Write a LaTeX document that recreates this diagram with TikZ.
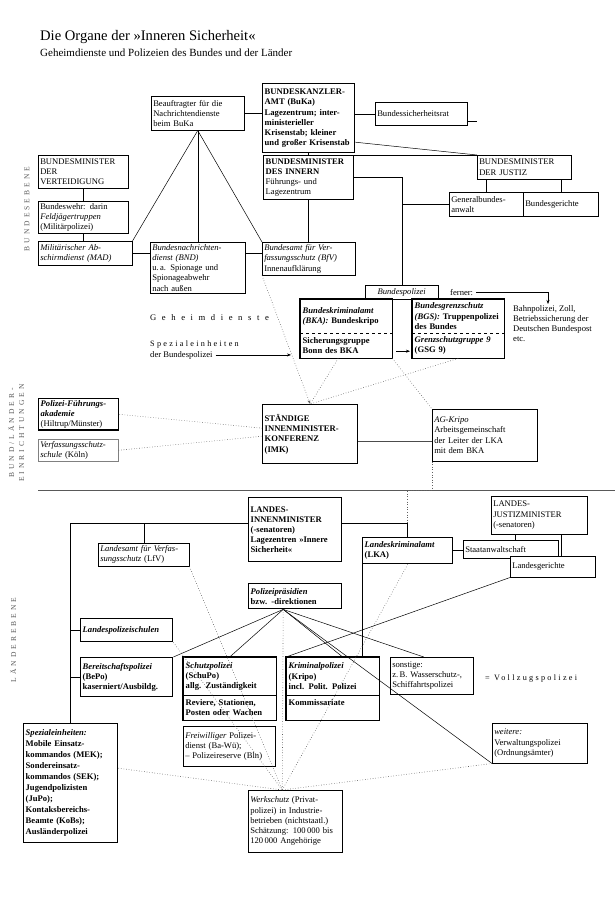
\documentclass[tikz,border=0pt]{standalone}
\usepackage{fontspec}
\setmainfont{Liberation Serif}
\newfontfamily\spacedfont[LetterSpace=28]{Liberation Serif}
\newfontfamily\sidefont[LetterSpace=40]{Liberation Serif}
\newfontfamily\widefont[LetterSpace=65]{Liberation Serif}
\usetikzlibrary{arrows.meta}

\tikzset{
  box/.style={draw, line width=.5pt, anchor=north west, align=left,
    inner xsep=2pt, inner ysep=1.5pt, font=\fontsize{8.6}{10.2}\selectfont},
  heavybox/.style={box, line width=1.4pt, font=\fontsize{8.6}{10.2}\selectfont\bfseries},
  part/.style={box, draw=none},
  heavypart/.style={heavybox, draw=none},
  dims/.style 2 args={text width=#1pt-4pt, minimum width=#1pt, minimum height=#2pt},
  link/.style={line width=.5pt},
  hint/.style={line width=.6pt, dotted, gray!75!black},
  lbl/.style={inner sep=0pt, align=left, font=\fontsize{8.6}{10.2}\selectfont},
  side/.style={inner sep=0pt, rotate=90, align=center, text=gray!70!black,
    font=\sidefont\fontsize{7.5}{10}\selectfont},
  arrowed/.style={-{Stealth[length=4pt, width=3pt]}}
}

\begin{document}
\begin{tikzpicture}[x=1pt, y=-1pt]
\useasboundingbox (0,0) rectangle (615,900);

% title
\node[anchor=base west, inner sep=0pt, font=\fontsize{14.6}{17}\selectfont] (title) at (40,40) {Die Organe der »Inneren Sicherheit«};
\node[anchor=base west, inner sep=0pt, font=\fontsize{11}{13}\selectfont] (subtitle) at (40,56) {Geheimdienste und Polizeien des Bundes und der Länder};

% side labels
\node[side] (lblbund) at (27,209) {BUNDESEBENE};
\node[side] (lblbl) at (16,433) {BUND/LÄNDER-\\EINRICHTUNGEN};
\node[side] (lbllaender) at (13,640) {LÄNDEREBENE};

% Bundesebene
\node[box, dims={93}{34}] (beauf) at (151,96) {Beauftragter für die\\Nachrichtendienste\\beim BuKa};
\node[heavybox, dims={92}{69}] (buka) at (262,83) {BUNDESKANZLER-\\AMT (BuKa)\\Lagezentrum; inter-\\ministerieller\\Krisenstab; kleiner\\und großer Krisenstab};
\node[box, dims={92}{23}] (bsr) at (375,102) {Bundessicherheitsrat};
\node[heavybox, dims={90}{44}] (bmi) at (263,155) {BUNDESMINISTER\\DES INNERN\\\mdseries Führungs- und\\Lagezentrum};
\node[box, dims={94}{24}] (bmj) at (477,155) {BUNDESMINISTER\\DER JUSTIZ};
\node[box, dims={74}{24}] (gba) at (449,192) {Generalbundes-\\anwalt};
\node[box, dims={75}{24}] (bger) at (523,192) {Bundesgerichte};
\node[box, dims={90}{33}] (bmvg) at (38,155) {BUNDESMINISTER\\DER\\VERTEIDIGUNG};
\node[box, dims={90}{32}] (bw) at (38,201) {Bundeswehr: darin\\\textit{Feldjägertruppen}\\(Militärpolizei)};
\node[box, dims={94}{24}] (mad) at (38,241) {\textit{Militärischer Ab-}\\\textit{schirmdienst (MAD)}};
\node[box, dims={95}{51}] (bnd) at (150,242) {\textit{Bundesnachrichten-}\\\textit{dienst (BND)}\\u.\,a. Spionage und\\Spionageabwehr\\nach außen};
\node[box, dims={93}{33}] (bfv) at (262,242) {\textit{Bundesamt für Ver-}\\\textit{fassungsschutz (BfV)}\\Innenaufklärung};

\node[lbl, anchor=base west, font=\widefont\fontsize{8.6}{10.2}\selectfont] (geheim) at (150,320) {Geheimdienste};
\node[lbl, anchor=base west, font=\spacedfont\fontsize{8.2}{10.2}\selectfont] (spza) at (150,346) {Spezialeinheiten};
\node[lbl, anchor=base west] (spzb) at (150,357) {der Bundespolizei};

\node[box, dims={73}{14}, align=center, font=\fontsize{8.6}{10.2}\selectfont\itshape] (bpol) at (365,285) {Bundespolizei};
\node[lbl, anchor=base west] (ferner) at (450,295) {ferner:};
\coordinate (bahntip) at (548,304);
\node[lbl, anchor=north west] (bahn) at (513,305) {Bahnpolizei, Zoll,\\Betriebssicherung der\\Deutschen Bundespost\\etc.};

\node[heavypart, dims={91}{33}] (bka) at (300,299) {\textit{Bundeskriminalamt}\\\textit{(BKA):} Bundeskripo};
\node[heavypart, dims={91}{25}] (bkal) at (300,332) {Sicherungsgruppe\\Bonn des BKA};
\node[heavypart, dims={91}{33}] (bgs) at (412,299) {\textit{Bundesgrenzschutz}\\\textit{(BGS):} Truppenpolizei\\des Bundes};
\node[heavypart, dims={91}{25}] (bgsl) at (412,332) {\textit{Grenzschutzgruppe 9}\\(GSG 9)};
\draw[line width=1.4pt] (bka.north west) rectangle (bkal.south east);
\draw[line width=1.4pt] (bgs.north west) rectangle (bgsl.south east);
\draw[link, dashed] (bka.south west) -- (bka.south east);
\draw[link, dashed] (bgs.south west) -- (bgs.south east);

% Bund/Laender-Einrichtungen
\node[heavybox, dims={80}{29}] (pfa) at (38,398) {\textit{Polizei-Führungs-}\\\textit{akademie}\\{\mdseries(Hiltrup/Münster)}};
\node[box, dims={80}{22}, draw=gray] (vss) at (38,439) {\textit{Verfassungsschutz-}\\\textit{schule} (Köln)};
\node[heavybox, dims={95}{59}] (imk) at (262,404) {STÄNDIGE\\INNENMINISTER-\\KONFERENZ\\(IMK)};
\node[box, dims={105}{52}] (agk) at (432,409) {\textit{AG-Kripo}\\Arbeitsgemeinschaft\\der Leiter der LKA\\mit dem BKA};

\coordinate (sepL) at (38,490);
\coordinate (sepR) at (615,490);
\coordinate (sepknot) at (407,490);
\draw[line width=.9pt, gray!70!black] (sepL) -- (sepR);

% Laenderebene
\node[heavybox, dims={93}{64}] (lim) at (248,497) {LANDES-\\INNENMINISTER\\(-senatoren)\\Lagezentren »Innere\\Sicherheit«};
\node[box, dims={96}{38}] (ljm) at (491,496) {LANDES-\\JUSTIZMINISTER\\(-senatoren)};
\node[box, dims={91}{23}] (lfv) at (98,543) {\textit{Landesamt für Verfas-}\\\textit{sungsschutz} (LfV)};
\node[heavybox, dims={90}{26}] (lka) at (362,537) {\textit{Landeskriminalamt}\\(LKA)};
\node[box, dims={95}{18}] (sta) at (463,540) {Staatanwaltschaft};
\node[box, dims={85}{21}, fill=white] (lger) at (510,556) {Landesgerichte};
\node[heavybox, dims={93}{25}] (ppr) at (248,583) {\textit{Polizeipräsidien}\\bzw. -direktionen};
\node[heavybox, dims={92}{23}] (lps) at (80,618) {\textit{Landespolizeischulen}};
\node[heavybox, dims={92}{39}] (bepo) at (80,657) {\textit{Bereitschaftspolizei}\\(BePo)\\kaserniert/Ausbildg.};
\node[heavypart, dims={92}{37}] (schupo) at (183,657) {\textit{Schutzpolizei}\\(SchuPo)\\allg. Zuständigkeit};
\node[heavypart, dims={92}{25}] (revier) at (183,694) {Reviere, Stationen,\\Posten oder Wachen};
\node[heavypart, dims={92}{37}] (kripo) at (286,657) {\textit{Kriminalpolizei}\\(Kripo)\\incl. Polit. Polizei};
\node[heavypart, dims={92}{25}] (kommiss) at (286,694) {Kommissariate\\\mbox{}};
\draw[line width=1.4pt] (schupo.north west) rectangle (revier.south east);
\draw[line width=1.4pt] (kripo.north west) rectangle (kommiss.south east);
\draw[link] (schupo.south west) -- (schupo.south east);
\draw[link] (kripo.south west) -- (kripo.south east);
\node[box, dims={83}{37}] (sonst) at (390,657) {sonstige:\\z.\,B. Wasserschutz-,\\Schiffahrtspolizei};
\node[lbl, anchor=base west, font=\spacedfont\fontsize{8.2}{10.2}\selectfont] (vollz) at (485,680) {= Vollzugspolizei};
\node[heavybox, dims={94}{119}, font=\fontsize{8.6}{11}\selectfont\bfseries] (spez) at (23,723) {\textit{Spezialeinheiten:}\\Mobile Einsatz-\\kommandos (MEK);\\Sondereinsatz-\\kommandos (SEK);\\Jugendpolizisten\\(JuPo);\\Kontaksbereichs-\\Beamte (KoBs);\\Ausländerpolizei};
\node[box, dims={92}{40}] (fpd) at (183,726) {\textit{Freiwilliger} Polizei-\\dienst (Ba-Wü);\\-- Polizeireserve (Bln)};
\node[box, dims={95}{40}] (weit) at (492,723) {\textit{weitere:}\\Verwaltungspolizei\\(Ordnungsämter)};
\node[box, dims={94}{62}] (werk) at (248,790) {\textit{Werkschutz} (Privat-\\polizei) in Industrie-\\betrieben (nichtstaatl.)\\Schätzung: 100\,000 bis\\120\,000 Angehörige};

% connectors Bundesebene
\coordinate (bsrend) at (477,121);
\draw[link] (beauf.east) -- (beauf.east -| buka.west);
\draw[link] (bsr.west -| buka.east) -- (bsr.west);
\draw[link] (bsrend -| bsr.east) -- (bsrend);
\draw[link] (buka.south) -- (buka.south |- bmi.north);
\draw[link] ([yshift=-24pt]buka.east) -- (bmj.north west);
\draw[link] (bmi.north east) -- (bmj.north west);
\draw[link] (gba.north) -- (gba.north |- bmj.south);
\draw[link] (bger.north) -- (bger.north |- bmj.south);
\draw[link] (bmi.east) -| (bpol.north);
\draw[link] (gba.west) -- (gba.west -| bpol.north);
\draw[link] (bmi.south) -- (bmi.south |- bfv.north);
\draw[link] (bmvg.south) -- (bmvg.south |- bw.north);
\draw[link] (bw.south) -- (bw.south |- mad.north);
\draw[link] (mad.east) -- (mad.east -| bnd.west);
\draw[link] (mad.east -| bnd.east) -- (mad.east -| bfv.west);
\draw[link] (beauf.south) -- (mad.north east);
\draw[link] (beauf.south) -- (beauf.south |- bnd.north);
\draw[link] (beauf.south) -- (bfv.north west);
\draw[link, arrowed, shorten <=3pt, shorten >=9pt] (spzb.east) -- (spzb.east -| bkal.west);
\draw[link, arrowed, shorten <=4pt, shorten >=2pt] ([yshift=-6pt]bkal.east) -- ([yshift=-6pt]bgsl.west);
\draw[link, arrowed, shorten <=3pt] (ferner.east) -| (bahntip);

% dotted relations
\draw[hint, arrowed] (bfv.south west) -- (imk.north);
\draw[hint] ([xshift=-8pt]bkal.south) -- (imk.north);
\draw[hint] (bgsl.south) -- (imk.north);
\draw[hint] (bkal.south east) -- (agk.north west);
\draw[hint] (pfa.east) -- ([yshift=6pt]imk.west);
\draw[hint] (vss.east) -- ([yshift=-2pt]imk.west);
\draw[line width=1.3pt, gray!60!black] ([yshift=-7.5pt]imk.east) -- ([yshift=-7.5pt]imk.east -| agk.west);

% connectors Laenderebene
\coordinate (limleft) at ([yshift=6pt]lim.west);
\coordinate (limright) at ([yshift=6pt]lim.east);
\coordinate (pprfan) at ([xshift=-12pt]ppr.south);
\coordinate (werkin) at ([xshift=-13pt]werk.north);
\draw[hint] (agk.south west) |- (sepknot) -- (sepknot |- limright);
\draw[link] (limleft) -| (spez.north);
\draw[link] (lfv.north) -- (lfv.north |- limleft);
\draw[link] (lps.west) -- (lps.west -| spez.north);
\draw[link] (bepo.west) -- (bepo.west -| spez.north);
\draw[link] (limright) -| (lka.north);
\draw[link] (lka.east) -- (lka.east -| sta.west);
\draw[link] ([xshift=-24pt]ljm.south) -- ([xshift=-24pt]ljm.south |- sta.north);
\draw[link] ([xshift=22pt]ljm.south) -- ([xshift=22pt]ljm.south |- lger.north);
\draw[link] (lka.south west) -- (lka.south west |- kripo.north);
\draw[link] (lger.south west) -- (kripo.north west);
\draw[link] (pprfan) -- (bepo.north east);
\draw[link] (pprfan) -- (schupo.north);
\draw[link] (pprfan) -- ([xshift=10pt]kripo.north);
\draw[link] (pprfan) -- ([xshift=-8pt]sonst.north);
\draw[link] (pprfan) -- (weit.south west);

\draw[hint] (pprfan) -- (werkin);
\draw[hint] (lfv.south east) -- (werkin);
\draw[hint] (lps.south east) -- (werkin);
\draw[hint] (lka.south) -- (werkin);
\draw[hint] ([yshift=15pt]spez.east) -- (werkin);
\draw[hint] (weit.south west) -- (werkin);
\end{tikzpicture}
\end{document}
